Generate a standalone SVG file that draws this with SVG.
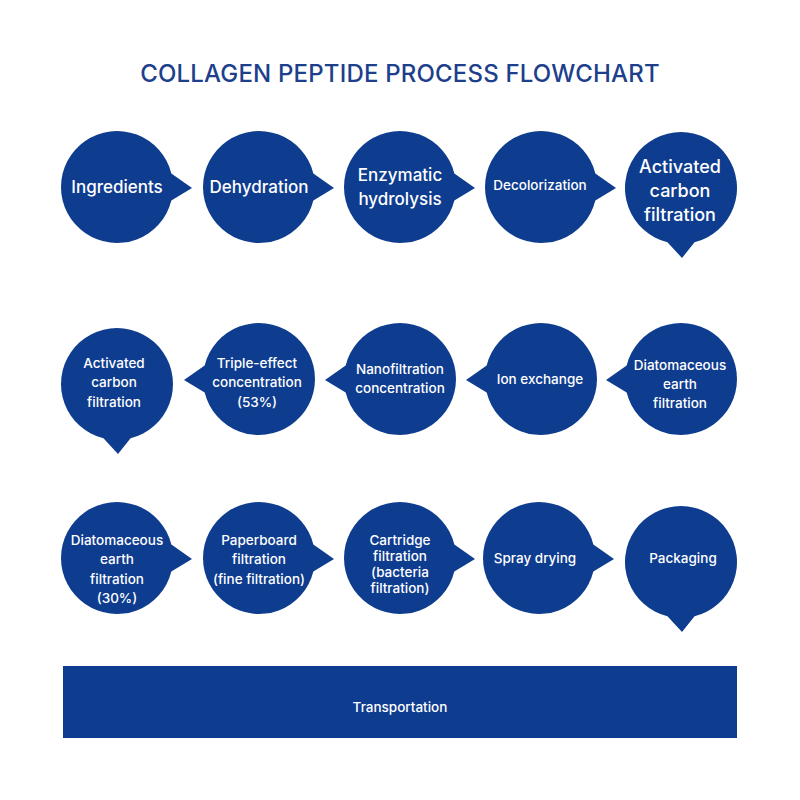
<svg xmlns="http://www.w3.org/2000/svg" xmlns:xlink="http://www.w3.org/1999/xlink" width="800" height="800" viewBox="0 0 800 800">
<style>
.b{fill:#0e3c8f}
.t{fill:#ffffff;font-family:Inter,"Noto Sans","Liberation Sans",sans-serif;font-weight:500;text-anchor:middle;dominant-baseline:central}
.l{font-size:17px}
.s{font-size:13.5px}
.title{fill:#1d3f8c;font-family:Inter,"Noto Sans","Liberation Sans",sans-serif;font-weight:500;font-size:24px;letter-spacing:0.18px;text-anchor:middle}
</style>
<defs>
<path id="br" d="M54.34,-13.55 L75,1 L54.34,13.55 A56,56 0 1,1 54.34,-13.55 Z"/>
<path id="bl" d="M-54.34,-13.55 L-75,1 L-54.34,13.55 A56,56 0 1,0 -54.34,-13.55 Z"/>
<path id="bd" d="M-13.55,54.34 L1,70 L13.55,54.34 A56,56 0 1,0 -13.55,54.34 Z"/>
</defs>
<rect width="800" height="800" fill="#ffffff"/>
<text class="title" x="400" y="82">COLLAGEN PEPTIDE PROCESS FLOWCHART</text>

<g id="connectors"></g>

<g id="n1"><use xlink:href="#br" class="b" x="117" y="187"/><text class="t l" x="117" y="187">Ingredients</text></g>
<g id="n2"><use xlink:href="#br" class="b" x="259" y="187"/><text class="t l" x="259" y="187">Dehydration</text></g>
<g id="n3"><use xlink:href="#br" class="b" x="400" y="187"/><text class="t l" x="400" y="175">Enzymatic</text><text class="t l" x="400" y="199">hydrolysis</text></g>
<g id="n4"><use xlink:href="#br" class="b" x="541" y="187"/><text class="t s" x="540" y="185">Decolorization</text></g>
<g id="n5"><use xlink:href="#bd" class="b" x="681" y="188"/><text class="t" style="font-size:18px" x="680" y="166">Activated</text><text class="t" style="font-size:18px" x="680" y="190">carbon</text><text class="t" style="font-size:18px" x="680" y="214">filtration</text></g>

<g id="n6"><use xlink:href="#bd" class="b" x="117" y="384"/><text class="t s" x="114" y="363">Activated</text><text class="t s" x="114" y="382">carbon</text><text class="t s" x="114" y="402">filtration</text></g>
<g id="n7"><use xlink:href="#bl" class="b" x="259" y="379"/><text class="t s" x="257" y="363">Triple-effect</text><text class="t s" x="257" y="382">concentration</text><text class="t s" x="257" y="402">(53%)</text></g>
<g id="n8"><use xlink:href="#bl" class="b" x="400" y="379"/><text class="t s" x="400" y="369">Nanofiltration</text><text class="t s" x="400" y="388">concentration</text></g>
<g id="n9"><use xlink:href="#bl" class="b" x="541" y="379"/><text class="t s" x="540" y="379">Ion exchange</text></g>
<g id="n10"><use xlink:href="#bl" class="b" x="681" y="379"/><text class="t s" x="680" y="365">Diatomaceous</text><text class="t s" x="680" y="384">earth</text><text class="t s" x="680" y="403">filtration</text></g>

<g id="n11"><use xlink:href="#br" class="b" x="117" y="558"/><text class="t s" x="117" y="540">Diatomaceous</text><text class="t s" x="117" y="559">earth</text><text class="t s" x="117" y="579">filtration</text><text class="t s" x="117" y="598">(30%)</text></g>
<g id="n12"><use xlink:href="#br" class="b" x="259" y="558"/><text class="t s" x="259" y="540">Paperboard</text><text class="t s" x="259" y="559">filtration</text><text class="t s" x="259" y="579">(fine filtration)</text></g>
<g id="n13"><use xlink:href="#br" class="b" x="400" y="558"/><text class="t s" x="400" y="540">Cartridge</text><text class="t s" x="400" y="556">filtration</text><text class="t s" x="400" y="572">(bacteria</text><text class="t s" x="400" y="588">filtration)</text></g>
<g id="n14"><use xlink:href="#br" class="b" x="539" y="558"/><text class="t s" x="535" y="558">Spray drying</text></g>
<g id="n15"><use xlink:href="#bd" class="b" x="681" y="562"/><text class="t s" x="683" y="558">Packaging</text></g>

<g id="n16"><rect class="b" x="63" y="666" width="674" height="72"/><text class="t s" x="400" y="707">Transportation</text></g>
</svg>
